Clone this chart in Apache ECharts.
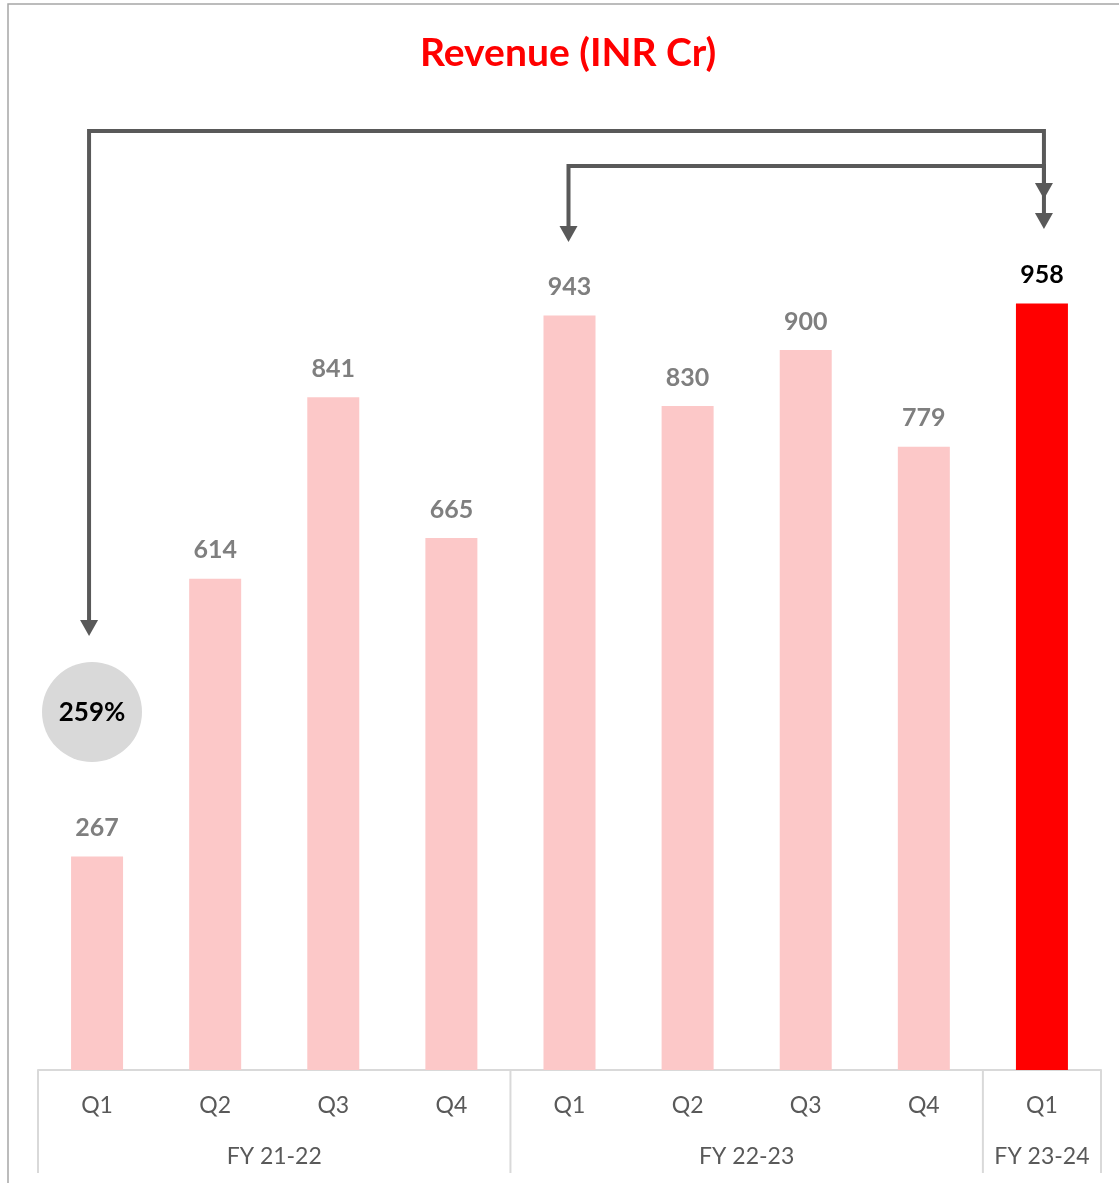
<!DOCTYPE html>
<html>
<head>
<meta charset="utf-8">
<script src="https://cdn.jsdelivr.net/npm/echarts@6/dist/echarts.min.js"></script>
<style>
  html, body { margin: 0; padding: 0; background: #fff; }
  #chart { width: 1119px; height: 1183px; }
</style>
</head>
<body>
<div id="chart"></div>
<script>
// data
const quarters = ['Q1', 'Q2', 'Q3', 'Q4', 'Q1', 'Q2', 'Q3', 'Q4', 'Q1'];
const revenue = [267, 614, 841, 665, 943, 830, 900, 779, 958];
const fyGroups = ['FY 21-22', 'FY 22-23', 'FY 23-24'];
const fyCounts = [4, 4, 1];
const growthLabel = '259%';

const FONT = 'Lato, "Open Sans", sans-serif';
const GREY_ARROW = '#595959';

const chart = echarts.init(document.getElementById('chart'));

const option = {
  animation: false,
  title: {
    text: 'Revenue (INR Cr)',
    left: 415,
    top: 29,
    textStyle: { color: '#ff0000', fontSize: 39, fontWeight: 'bold', fontFamily: FONT }
  },
  grid: { left: 38, right: 18, top: 110, bottom: 113 },
  xAxis: {
    type: 'category',
    data: quarters,
    axisLine: { lineStyle: { color: '#d9d9d9', width: 2 } },
    axisTick: { show: false },
    axisLabel: { color: '#595959', fontSize: 23, fontFamily: FONT, margin: 24 }
  },
  yAxis: {
    type: 'value',
    min: 0,
    max: 1200,
    show: false,
    splitLine: { show: false }
  },
  series: [{
    type: 'bar',
    barWidth: 52,
    data: revenue.map((v, i) => {
      const last = i === revenue.length - 1;
      return {
        value: v,
        itemStyle: { color: last ? '#ff0000' : '#fcc8c8' },
        label: { color: last ? '#000000' : '#7f7f7f' }
      };
    }),
    label: {
      show: true,
      position: 'top',
      distance: 16,
      fontSize: 25,
      fontWeight: 'bold',
      fontFamily: FONT
    }
  }]
};
chart.setOption(option);

// annotations placed from the axis scale
function px(i, v) { return chart.convertToPixel({ gridIndex: 0 }, [i, v]); }
const baseY = px(0, 0)[1];
const step = px(1, 0)[0] - px(0, 0)[0];
const leftEdge = px(0, 0)[0] - step / 2;

const graphics = [];

// outer frame (left + top)
graphics.push({ type: 'polyline', shape: { points: [[8, 1183], [8, 4], [1119, 4]] },
  style: { stroke: '#a6a6a6', lineWidth: 1.5, fill: null }, silent: true });

// group separators and FY labels
let start = 0;
const sepBottom = 1173;
graphics.push({ type: 'line', shape: { x1: leftEdge, y1: baseY, x2: leftEdge, y2: sepBottom },
  style: { stroke: '#d9d9d9', lineWidth: 2 } });
fyGroups.forEach((g, k) => {
  const end = start + fyCounts[k];
  const x0 = leftEdge + start * step;
  const x1 = leftEdge + end * step;
  graphics.push({ type: 'line', shape: { x1: x1, y1: baseY, x2: x1, y2: sepBottom },
    style: { stroke: '#d9d9d9', lineWidth: 2 } });
  graphics.push({ type: 'text', x: (x0 + x1) / 2, y: 1157,
    style: { text: g, fill: '#595959', font: '23px ' + FONT, textAlign: 'center', textVerticalAlign: 'middle' } });
  start = end;
});

function arrowHead(x, tipY) {
  return { type: 'polygon', shape: { points: [[x - 9, tipY - 16], [x + 9, tipY - 16], [x, tipY]] },
    style: { fill: GREY_ARROW } };
}

const xFirst = px(0, 0)[0] - 8;
const xMid = px(4, 0)[0] - 1;
const xLast = px(8, 0)[0] + 2;

// long arrow: last quarter vs first quarter
graphics.push({ type: 'polyline', shape: { points: [[xFirst, 620], [xFirst, 131], [xLast, 131], [xLast, 215]] },
  style: { stroke: GREY_ARROW, lineWidth: 4, fill: null } });
graphics.push(arrowHead(xFirst, 636));
graphics.push(arrowHead(xLast, 229));

// short arrow: year over year
graphics.push({ type: 'polyline', shape: { points: [[xMid, 228], [xMid, 166], [xLast, 166], [xLast, 185]] },
  style: { stroke: GREY_ARROW, lineWidth: 4, fill: null } });
graphics.push(arrowHead(xMid, 242));
graphics.push(arrowHead(xLast, 199));

// growth bubble
graphics.push({ type: 'circle', shape: { cx: 92, cy: 712, r: 50 }, style: { fill: '#d9d9d9' } });
graphics.push({ type: 'text', x: 92, y: 713,
  style: { text: growthLabel, fill: '#000', font: 'bold 26px ' + FONT, textAlign: 'center', textVerticalAlign: 'middle' } });

chart.setOption({ graphic: graphics });
</script>
</body>
</html>
